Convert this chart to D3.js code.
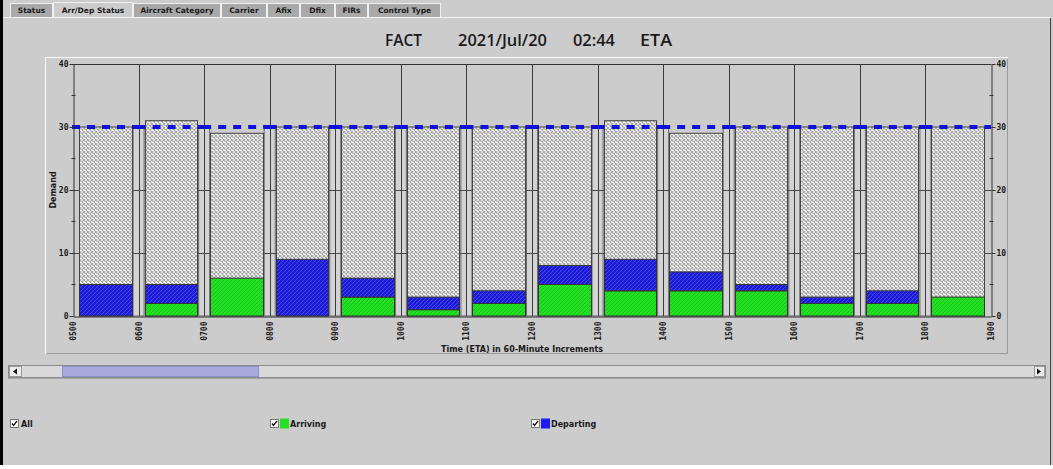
<!DOCTYPE html>
<html>
<head>
  <meta charset="UTF-8">
  <title>FACT demand</title>
  <script src="https://d3js.org/d3.v7.min.js"></script>
  <style>
    body { margin: 0; background: #cccccc; }
    svg text { font-family: "DejaVu Sans", sans-serif; fill: #1a1a1a; }
    .mono text, text.mono { font-family: "DejaVu Sans Mono", monospace; font-weight: bold; font-size: 8px; }
  </style>
</head>
<body>
  <svg></svg>
  <script>
    // data
    const hourLabels = ["0500", "0600", "0700", "0800", "0900", "1000", "1100", "1200",
      "1300", "1400", "1500", "1600", "1700", "1800", "1900"];
    const barHours = [5, 6, 7, 8, 9, 10, 11, 12, 13, 14, 15, 16, 17, 18];
    const totalDemand = [30, 31, 29, 30, 30, 30, 30, 30, 31, 29, 30, 30, 30, 30];
    const arriving = [0, 2, 6, 0, 3, 1, 2, 5, 4, 4, 4, 2, 2, 3];
    const departing = [5, 3, 0, 9, 3, 2, 2, 3, 5, 3, 1, 1, 2, 0];
    const capacity = 30;
    const yMajor = [0, 10, 20, 30, 40];
    const yMinor = [5, 15, 25, 35];
    const tabs = ["Status", "Arr/Dep Status", "Aircraft Category", "Carrier", "Afix", "Dfix", "FIRs", "Control Type"];
    const titleParts = ["FACT", "2021/Jul/20", "02:44", "ETA"];

    let width = 1053,
      height = 469;

    let svg = d3.select("svg")
      .attr("width", width)
      .attr("height", height);

    svg.append("rect").attr("width", width).attr("height", height).attr("fill", "#cccccc");

    let defs = svg.append("defs");

    let hatch = defs.append("pattern").attr("id", "hatch")
      .attr("patternUnits", "userSpaceOnUse").attr("width", 4).attr("height", 4);
    hatch.append("rect").attr("width", 4).attr("height", 4).attr("fill", "#ffffff");
    hatch.append("path").attr("d", "M0,0L4,4M4,0L0,4")
      .attr("stroke", "#a2a2a2").attr("stroke-width", 1.1);

    function stripes(id, base, line) {
      let p = defs.append("pattern").attr("id", id)
        .attr("patternUnits", "userSpaceOnUse").attr("width", 4).attr("height", 4);
      p.append("rect").attr("width", 4).attr("height", 4).attr("fill", base);
      p.append("path").attr("d", "M-1,1L1,-1M0,4L4,0M3,5L5,3")
        .attr("stroke", line).attr("stroke-width", 1);
    }
    stripes("arr", "#22e022", "#1ac21a");
    stripes("dep", "#1c1cd4", "#4646f8");

    // window frame
    svg.append("rect").attr("x", 0).attr("y", 0).attr("width", 3).attr("height", 465).attr("fill", "#000");
    svg.append("rect").attr("x", 0).attr("y", 465).attr("width", width).attr("height", 4).attr("fill", "#fff");
    svg.append("line").attr("x1", 1050.5).attr("x2", 1050.5).attr("y1", 17).attr("y2", 465)
      .attr("stroke", "#444");

    // tabs
    let tabX = [10, 53, 133, 221, 267, 300, 335, 368, 441];
    let tabG = svg.append("g");
    svg.append("line").attr("x1", 3).attr("x2", 1051).attr("y1", 17.5).attr("y2", 17.5).attr("stroke", "#f4f4f4");
    tabs.forEach((t, i) => {
      let sel = i == 1;
      tabG.append("rect")
        .attr("x", tabX[i] + 0.5).attr("y", sel ? 2.5 : 3.5)
        .attr("width", tabX[i + 1] - tabX[i] - 1).attr("height", sel ? 15 : 14)
        .attr("fill", sel ? "#cccccc" : "#a9a9a9")
        .attr("stroke", "#f0f0f0");
      tabG.append("text")
        .attr("x", (tabX[i] + tabX[i + 1]) / 2).attr("y", 13)
        .attr("text-anchor", "middle")
        .style("font-size", "7.5px").style("font-weight", "bold")
        .text(t);
    });

    // title
    let titleX = [385, 458, 573, 640];
    let titleW = [37, 89, 42, 32];
    titleParts.forEach((t, i) => {
      svg.append("text")
        .attr("x", titleX[i]).attr("y", 46)
        .attr("textLength", titleW[i]).attr("lengthAdjust", "spacingAndGlyphs")
        .style("font-size", "17px").style("font-weight", "600")
        .style("font-family", "'Open Sans', sans-serif")
        .text(t);
    });

    // chart panel (etched border)
    svg.append("rect").attr("x", 45.5).attr("y", 57.5).attr("width", 962).attr("height", 296)
      .attr("fill", "none").attr("stroke", "#f8f8f8");
    svg.append("path").attr("d", "M46.5,353.5H1007.5V58.5")
      .attr("fill", "none").attr("stroke", "#9a9a9a");

    let x = d3.scaleLinear().domain([5, 19]).range([73, 991]);
    let y = d3.scaleLinear().domain([0, 40]).range([316, 64]);

    // capacity boxes between bars
    svg.append("g").selectAll("rect")
      .data(d3.range(6, 19))
      .enter().append("rect")
      .attr("x", d => x(d) - 5.5).attr("y", y(capacity))
      .attr("width", 11).attr("height", y(0) - y(capacity))
      .attr("fill", "#d3d3d3").attr("stroke", "#6a6a6a");

    // grid
    svg.append("g").selectAll("line")
      .data([10, 20])
      .enter().append("line")
      .attr("x1", x(5)).attr("x2", x(19))
      .attr("y1", d => Math.round(y(d)) + 0.5).attr("y2", d => Math.round(y(d)) + 0.5)
      .attr("stroke", "#4a4a4a");
    svg.append("g").selectAll("line")
      .data(d3.range(6, 19))
      .enter().append("line")
      .attr("x1", d => Math.round(x(d)) + 0.5).attr("x2", d => Math.round(x(d)) + 0.5)
      .attr("y1", y(40)).attr("y2", y(0))
      .attr("stroke", "#3c3c3c");

    // bars
    let bars = svg.append("g").selectAll("g")
      .data(barHours.map((h, i) => ({ h: h, total: totalDemand[i], arr: arriving[i], dep: departing[i] })))
      .enter().append("g");

    let bx = d => Math.round(x(d.h)) + 6.5;
    let bw = d => Math.round(x(d.h + 1)) - Math.round(x(d.h)) - 13;

    bars.append("rect")
      .attr("x", bx).attr("width", bw)
      .attr("y", d => y(d.total)).attr("height", d => y(0) - y(d.total))
      .attr("fill", "url(#hatch)").attr("stroke", "#444");
    bars.filter(d => d.arr > 0).append("rect")
      .attr("x", bx).attr("width", bw)
      .attr("y", d => y(d.arr)).attr("height", d => y(0) - y(d.arr))
      .attr("fill", "url(#arr)").attr("stroke", "#333");
    bars.filter(d => d.dep > 0).append("rect")
      .attr("x", bx).attr("width", bw)
      .attr("y", d => y(d.arr + d.dep)).attr("height", d => y(d.arr) - y(d.arr + d.dep))
      .attr("fill", "url(#dep)").attr("stroke", "#333");

    // capacity line, dashes restart every hour
    svg.append("g").selectAll("line")
      .data(barHours)
      .enter().append("line")
      .attr("x1", d => x(d) - 1).attr("x2", d => x(d + 1))
      .attr("y1", y(capacity)).attr("y2", y(capacity))
      .attr("stroke", "#1010d8").attr("stroke-width", 4)
      .attr("stroke-dasharray", "8,7");

    // axes
    svg.append("line").attr("x1", x(5)).attr("x2", x(19))
      .attr("y1", y(40) + 0.5).attr("y2", y(40) + 0.5).attr("stroke", "#333");

    let left = svg.append("g").attr("class", "mono")
      .attr("transform", "translate(" + (x(5) + 0.5) + ",0)")
      .call(d3.axisLeft(y).tickValues(yMajor).tickSizeInner(4).tickSizeOuter(0).tickPadding(1));
    let right = svg.append("g").attr("class", "mono")
      .attr("transform", "translate(" + (x(19) + 0.5) + ",0)")
      .call(d3.axisRight(y).tickValues(yMajor).tickSizeInner(4).tickSizeOuter(0).tickPadding(1));
    [left, right].forEach(g => {
      g.select(".domain").attr("stroke", "#333");
      g.selectAll(".tick line").attr("stroke", "#333");
      g.selectAll(".minor").data(yMinor).enter().append("line")
        .attr("x1", -2).attr("x2", 2)
        .attr("y1", d => y(d)).attr("y2", d => y(d))
        .attr("stroke", "#333");
    });

    let bottom = svg.append("g").attr("class", "mono")
      .attr("transform", "translate(0," + (y(0) + 0.5) + ")")
      .call(d3.axisBottom(x).tickValues(d3.range(5, 20)).tickFormat((d, i) => hourLabels[i]).tickSize(0));
    bottom.select(".domain").attr("stroke", "#333");
    bottom.selectAll(".tick text")
      .attr("transform", "rotate(-90)")
      .attr("x", -5).attr("y", 0).attr("dy", "0.32em")
      .attr("text-anchor", "end");

    svg.append("text")
      .attr("x", 522).attr("y", 352)
      .attr("text-anchor", "middle")
      .style("font-size", "8px").style("font-weight", "bold")
      .text("Time (ETA) in 60-Minute Increments");

    svg.append("text")
      .attr("transform", "translate(56,190) rotate(-90)")
      .attr("text-anchor", "middle")
      .style("font-size", "8px").style("font-weight", "bold")
      .text("Demand");

    // scrollbar
    svg.append("rect").attr("x", 8.5).attr("y", 365.5).attr("width", 1037).attr("height", 12)
      .attr("fill", "#d9d9d9").attr("stroke", "#8c8c8c");
    svg.append("rect").attr("x", 9.5).attr("y", 366.5).attr("width", 12).attr("height", 10)
      .attr("fill", "#ececec").attr("stroke", "#9a9a9a");
    svg.append("path").attr("d", "M13,371.5L17,368.5V374.5Z").attr("fill", "#111");
    svg.append("rect").attr("x", 1034.5).attr("y", 366.5).attr("width", 10).attr("height", 10)
      .attr("fill", "#ececec").attr("stroke", "#9a9a9a");
    svg.append("path").attr("d", "M1041,371.5L1037,368.5V374.5Z").attr("fill", "#111");
    svg.append("rect").attr("x", 62.5).attr("y", 366.5).attr("width", 196).attr("height", 10)
      .attr("fill", "#aaaadf").attr("stroke", "#8f8fc8");
    svg.append("line").attr("x1", 8).attr("x2", 1046).attr("y1", 378.5).attr("y2", 378.5)
      .attr("stroke", "#a6a6a6");

    // legend checkboxes
    const legendItems = [
      { label: "All", x: 10, color: null },
      { label: "Arriving", x: 270, color: "#22e022" },
      { label: "Departing", x: 531, color: "#1c1cf0" }
    ];
    legendItems.forEach(d => {
      let g = svg.append("g").attr("transform", "translate(" + d.x + ",419)");
      g.append("rect").attr("x", 0.5).attr("y", 0.5).attr("width", 8).attr("height", 8)
        .attr("fill", "#fff").attr("stroke", "#777");
      g.append("path").attr("d", "M2,4.5L3.5,6.5L7,2").attr("fill", "none")
        .attr("stroke", "#111").attr("stroke-width", 1.3);
      let tx = 11;
      if (d.color) {
        g.append("rect").attr("x", 10).attr("y", -0.5).attr("width", 9).attr("height", 10)
          .attr("fill", d.color);
        tx = 20;
      }
      g.append("text").attr("x", tx).attr("y", 7.5)
        .style("font-size", "8px").style("font-weight", "bold")
        .text(d.label);
    });
  </script>
</body>
</html>
